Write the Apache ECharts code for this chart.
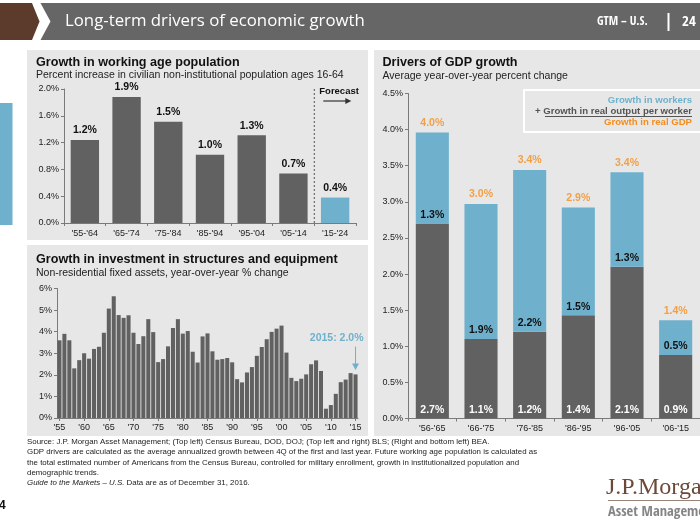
<!DOCTYPE html>
<html>
<head>
<meta charset="utf-8">
<script src="https://cdn.jsdelivr.net/npm/echarts@6/dist/echarts.min.js"></script>
<style>
html,body{margin:0;padding:0;background:#fff;}
#c{width:700px;height:525px;}
</style>
</head>
<body>
<div id="c"></div>
<script>
// ---- Data ----
const popCats = ["'55-'64","'65-'74","'75-'84","'85-'94","'95-'04","'05-'14","'15-'24"];
const popValues = [1.24, 1.88, 1.51, 1.02, 1.31, 0.74, 0.38];
const popTicks = [0, 0.4, 0.8, 1.2, 1.6, 2.0];

const invYears = ["1955","1956","1957","1958","1959","1960","1961","1962","1963","1964",
  "1965","1966","1967","1968","1969","1970","1971","1972","1973","1974",
  "1975","1976","1977","1978","1979","1980","1981","1982","1983","1984",
  "1985","1986","1987","1988","1989","1990","1991","1992","1993","1994",
  "1995","1996","1997","1998","1999","2000","2001","2002","2003","2004",
  "2005","2006","2007","2008","2009","2010","2011","2012","2013","2014","2015"];
const invValues = [3.6,3.9,3.6,2.3,2.68,3.0,2.75,3.2,3.3,3.95,
  5.07,5.64,4.77,4.64,4.76,3.95,3.43,3.79,4.58,3.98,
  2.59,2.73,3.32,4.17,4.58,3.91,4.03,3.07,2.57,3.78,
  3.92,3.09,2.7,2.73,2.78,2.58,1.8,1.65,2.11,2.36,
  2.88,3.29,3.65,3.99,4.14,4.28,3.03,1.86,1.71,1.82,
  2.02,2.49,2.67,2.18,0.43,0.6,1.12,1.66,1.78,2.08,2.02];
const invTicks = [0,1,2,3,4,5,6];

const gdpCats = ["'56-'65","'66-'75","'76-'85","'86-'95","'96-'05","'06-'15"];
const outputPerWorker = [2.70, 1.10, 1.20, 1.43, 2.10, 0.88];
const workers = [1.26, 1.87, 2.24, 1.49, 1.31, 0.48];
const realGdp = [3.96, 2.97, 3.44, 2.92, 3.41, 1.36];
const gdpTicks = [0,0.5,1.0,1.5,2.0,2.5,3.0,3.5,4.0,4.5];

// ---- Styles ----
const FONT = "'Liberation Sans', Arial, sans-serif";
const COND = "'Open Sans Condensed','Liberation Sans Narrow','Liberation Sans',Arial";
const DARK = '#616161';
const BLUE = '#6fb1cd';
const ORANGE = '#f58d1e';
const PANEL = '#e7e7e7';
const AXIS = '#7a7a7a';

const pct1 = v => v.toFixed(1) + '%';

const baseY = (min, max, interval, fmt) => ({
  type: 'value', min: min, max: max, interval: interval,
  splitLine: {show: false},
  axisLine: {show: true, lineStyle: {color: AXIS, width: 1}},
  axisTick: {show: true, length: 3, lineStyle: {color: AXIS}},
  axisLabel: {fontFamily: FONT, fontSize: 9, color: '#222', margin: 5, formatter: fmt}
});

const chart = echarts.init(document.getElementById('c'), null, {renderer: 'canvas'});

const option = {
  animation: false,
  backgroundColor: '#ffffff',
  textStyle: {fontFamily: FONT},
  grid: [
    {left: 64, top: 89, width: 292, height: 134},
    {left: 57, top: 288.5, width: 301, height: 129.5},
    {left: 408, top: 93.5, width: 299, height: 325}
  ],
  xAxis: [
    {type: 'category', gridIndex: 0, data: popCats,
      axisLine: {lineStyle: {color: AXIS}},
      axisTick: {show: true, length: 3, lineStyle: {color: AXIS}},
      axisLabel: {fontFamily: FONT, fontSize: 9, color: '#222', margin: 6}},
    {type: 'category', gridIndex: 1, data: invYears,
      axisLine: {lineStyle: {color: AXIS}},
      axisTick: {show: true, length: 3, interval: 4, alignWithLabel: true, lineStyle: {color: AXIS}},
      axisLabel: {fontFamily: FONT, fontSize: 9, color: '#222', margin: 5, interval: 4,
        formatter: v => "'" + v.slice(2)}},
    {type: 'category', gridIndex: 2, data: gdpCats,
      axisLine: {lineStyle: {color: AXIS}},
      axisTick: {show: true, length: 3, lineStyle: {color: AXIS}},
      axisLabel: {fontFamily: FONT, fontSize: 9, color: '#222', margin: 6}}
  ],
  yAxis: [
    Object.assign(baseY(popTicks[0], popTicks[popTicks.length-1], 0.4, v => v.toFixed(1) + '%'), {gridIndex: 0}),
    Object.assign(baseY(invTicks[0], invTicks[invTicks.length-1], 1, v => v + '%'), {gridIndex: 1}),
    Object.assign(baseY(gdpTicks[0], gdpTicks[gdpTicks.length-1], 0.5, v => v.toFixed(1) + '%'), {gridIndex: 2})
  ],
  series: [
    {type: 'bar', xAxisIndex: 0, yAxisIndex: 0, barWidth: '68%',
      data: popValues.map((v, i) => ({value: v, itemStyle: {color: i === popValues.length - 1 ? BLUE : DARK}})),
      label: {show: true, position: 'top', distance: 4, fontFamily: FONT, fontSize: 10.5, fontWeight: 'bold', color: '#111',
        formatter: p => pct1(p.value)}},
    {type: 'bar', xAxisIndex: 1, yAxisIndex: 1, barCategoryGap: '18%',
      itemStyle: {color: DARK}, data: invValues},
    {type: 'bar', xAxisIndex: 2, yAxisIndex: 2, stack: 'gdp', barWidth: '68%',
      itemStyle: {color: DARK}, data: outputPerWorker,
      label: {show: true, position: 'insideBottom', distance: 3, fontFamily: FONT, fontSize: 10.5, fontWeight: 'bold', color: '#ffffff',
        formatter: p => pct1(p.value)}},
    {type: 'bar', xAxisIndex: 2, yAxisIndex: 2, stack: 'gdp', barWidth: '68%',
      itemStyle: {color: BLUE}, data: workers,
      label: {show: true, position: 'insideBottom', distance: 3, fontFamily: FONT, fontSize: 10.5, fontWeight: 'bold', color: '#111',
        formatter: p => pct1(p.value)}},
    {type: 'scatter', xAxisIndex: 2, yAxisIndex: 2, symbolSize: 0, data: realGdp, z: 10,
      label: {show: true, position: 'top', distance: 4, fontFamily: FONT, fontSize: 10.5, fontWeight: 'bold', color: ORANGE,
        formatter: p => pct1(p.value)}}
  ]
};
chart.setOption(option);

// ---- Annotations & layout graphics ----
const txt = (x, y, text, style) => ({type: 'text', x: x, y: y, z: 100,
  style: Object.assign({text: text, fontFamily: FONT, fill: '#111', textVerticalAlign: 'middle'}, style)});

// forecast separator between the last two categories of top-left chart
const pA = chart.convertToPixel({seriesIndex: 0}, [5, 0]);
const pB = chart.convertToPixel({seriesIndex: 0}, [6, 0]);
const pTop = chart.convertToPixel({seriesIndex: 0}, [6, 2.0]);
const sepX = (pA[0] + pB[0]) / 2;

// 2015 annotation
const pLast = chart.convertToPixel({seriesIndex: 1}, [invYears.length - 1, invValues[invValues.length - 1]]);

const FOOT = {fontSize: 7.9, fill: '#222'};
const graphics = [
  // header
  {type: 'polygon', z: -5, shape: {points: [[0,3],[32,3],[39.5,21.5],[32,40],[0,40]]}, style: {fill: '#5d3b2c'}},
  {type: 'polygon', z: -5, shape: {points: [[40.5,3],[700,3],[700,40],[40.5,40],[50.5,21.5]]}, style: {fill: '#666666'}},
  txt(65, 21.5, 'Long-term drivers of economic growth', {fill: '#ffffff', fontSize: 16.8, fontFamily: "'Open Sans',Arial"}),
  txt(597, 22, 'GTM – U.S.', {fill: '#ffffff', fontSize: 12, fontWeight: 'bold', fontFamily: COND}),
  {type: 'rect', z: 100, shape: {x: 667.5, y: 13, width: 2, height: 18}, style: {fill: '#ffffff'}},
  txt(682, 22, '24', {fill: '#ffffff', fontSize: 15, fontWeight: 'bold', fontFamily: COND}),
  // left side blue tab
  {type: 'rect', z: -5, shape: {x: 0, y: 103, width: 12.5, height: 122}, style: {fill: BLUE}},
  // panels
  {type: 'rect', z: -5, shape: {x: 27, y: 50, width: 341, height: 190}, style: {fill: PANEL}},
  {type: 'rect', z: -5, shape: {x: 27, y: 245, width: 341, height: 191}, style: {fill: PANEL}},
  {type: 'rect', z: -5, shape: {x: 374, y: 50, width: 326, height: 386}, style: {fill: PANEL}},
  // panel titles
  txt(36, 62.5, 'Growth in working age population', {fontSize: 12.6, fontWeight: 'bold'}),
  txt(36, 75.5, 'Percent increase in civilian non-institutional population ages 16-64', {fontSize: 10.5, fill: '#222'}),
  txt(36, 259.5, 'Growth in investment in structures and equipment', {fontSize: 12.6, fontWeight: 'bold'}),
  txt(36, 273.5, 'Non-residential fixed assets, year-over-year % change', {fontSize: 10.5, fill: '#222'}),
  txt(382.5, 62.5, 'Drivers of GDP growth', {fontSize: 12.6, fontWeight: 'bold'}),
  txt(382.5, 76, 'Average year-over-year percent change', {fontSize: 10.5, fill: '#222'}),
  // forecast
  {type: 'line', z: 100, shape: {x1: sepX, y1: pTop[1], x2: sepX, y2: pA[1]}, style: {stroke: '#555', lineWidth: 1, lineDash: [2, 2]}},
  txt(sepX + 5, 91, 'Forecast', {fontSize: 9.5, fontWeight: 'bold'}),
  {type: 'line', z: 100, shape: {x1: sepX + 9, y1: 101, x2: sepX + 32, y2: 101}, style: {stroke: '#333', lineWidth: 1.2}},
  {type: 'polygon', z: 100, shape: {points: [[sepX + 31, 98], [sepX + 37, 101], [sepX + 31, 104]]}, style: {fill: '#333'}},
  // 2015 annotation
  txt(pLast[0] + 8, 338.5, '2015: 2.0%', {fontSize: 10.5, fontWeight: 'bold', fill: BLUE, textAlign: 'right'}),
  {type: 'line', z: 100, shape: {x1: pLast[0], y1: 346.5, x2: pLast[0], y2: pLast[1] - 10}, style: {stroke: BLUE, lineWidth: 1}},
  {type: 'polygon', z: 100, shape: {points: [[pLast[0] - 3.5, pLast[1] - 11], [pLast[0] + 3.5, pLast[1] - 11], [pLast[0], pLast[1] - 4.5]]}, style: {fill: BLUE}},
  // right legend box
  {type: 'rect', z: 50, shape: {x: 524, y: 90, width: 180, height: 42}, style: {fill: PANEL, stroke: '#ffffff', lineWidth: 2}},
  txt(692, 100.5, 'Growth in workers', {fontSize: 9.6, fontWeight: 'bold', fill: BLUE, textAlign: 'right'}),
  txt(692, 111.3, '+ Growth in real output per worker', {fontSize: 9.6, fontWeight: 'bold', fill: '#555', textAlign: 'right'}),
  {type: 'line', z: 100, shape: {x1: 545, y1: 116.5, x2: 692, y2: 116.5}, style: {stroke: '#555', lineWidth: 1}},
  txt(692, 122.5, 'Growth in real GDP', {fontSize: 9.6, fontWeight: 'bold', fill: ORANGE, textAlign: 'right'}),
  // footer
  txt(27, 441.5, 'Source: J.P. Morgan Asset Management; (Top left) Census Bureau, DOD, DOJ; (Top left and right) BLS; (Right and bottom left) BEA.', FOOT),
  txt(27, 452, 'GDP drivers are calculated as the average annualized growth between 4Q of the first and last year. Future working age population is calculated as', FOOT),
  txt(27, 462.5, 'the total estimated number of Americans from the Census Bureau, controlled for military enrollment, growth in institutionalized population and', FOOT),
  txt(27, 472.5, 'demographic trends.', FOOT),
  {type: 'text', z: 100, x: 27, y: 483, style: {rich: {i: {fontStyle: 'italic', fontSize: 7.9, fontFamily: FONT, fill: '#222'}, n: {fontSize: 7.9, fontFamily: FONT, fill: '#222'}},
    text: '{i|Guide to the Markets – U.S.}{n| Data are as of December 31, 2016.}', textVerticalAlign: 'middle'}},
  txt(-1, 506, '4', {fontSize: 12, fontWeight: 'bold', fill: '#111'}),
  // logo
  txt(606, 488, 'J.P.Morgan', {fontSize: 24, fill: '#6b4a39', fontFamily: "'Liberation Serif','DejaVu Serif',serif"}),
  {type: 'line', z: 100, shape: {x1: 608, y1: 500.5, x2: 700, y2: 500.5}, style: {stroke: '#9a8478', lineWidth: 1}},
  txt(608, 512, 'Asset Management', {fontSize: 14.5, fill: '#858585', fontFamily: COND})
];
chart.setOption({graphic: graphics});
</script>
</body>
</html>
